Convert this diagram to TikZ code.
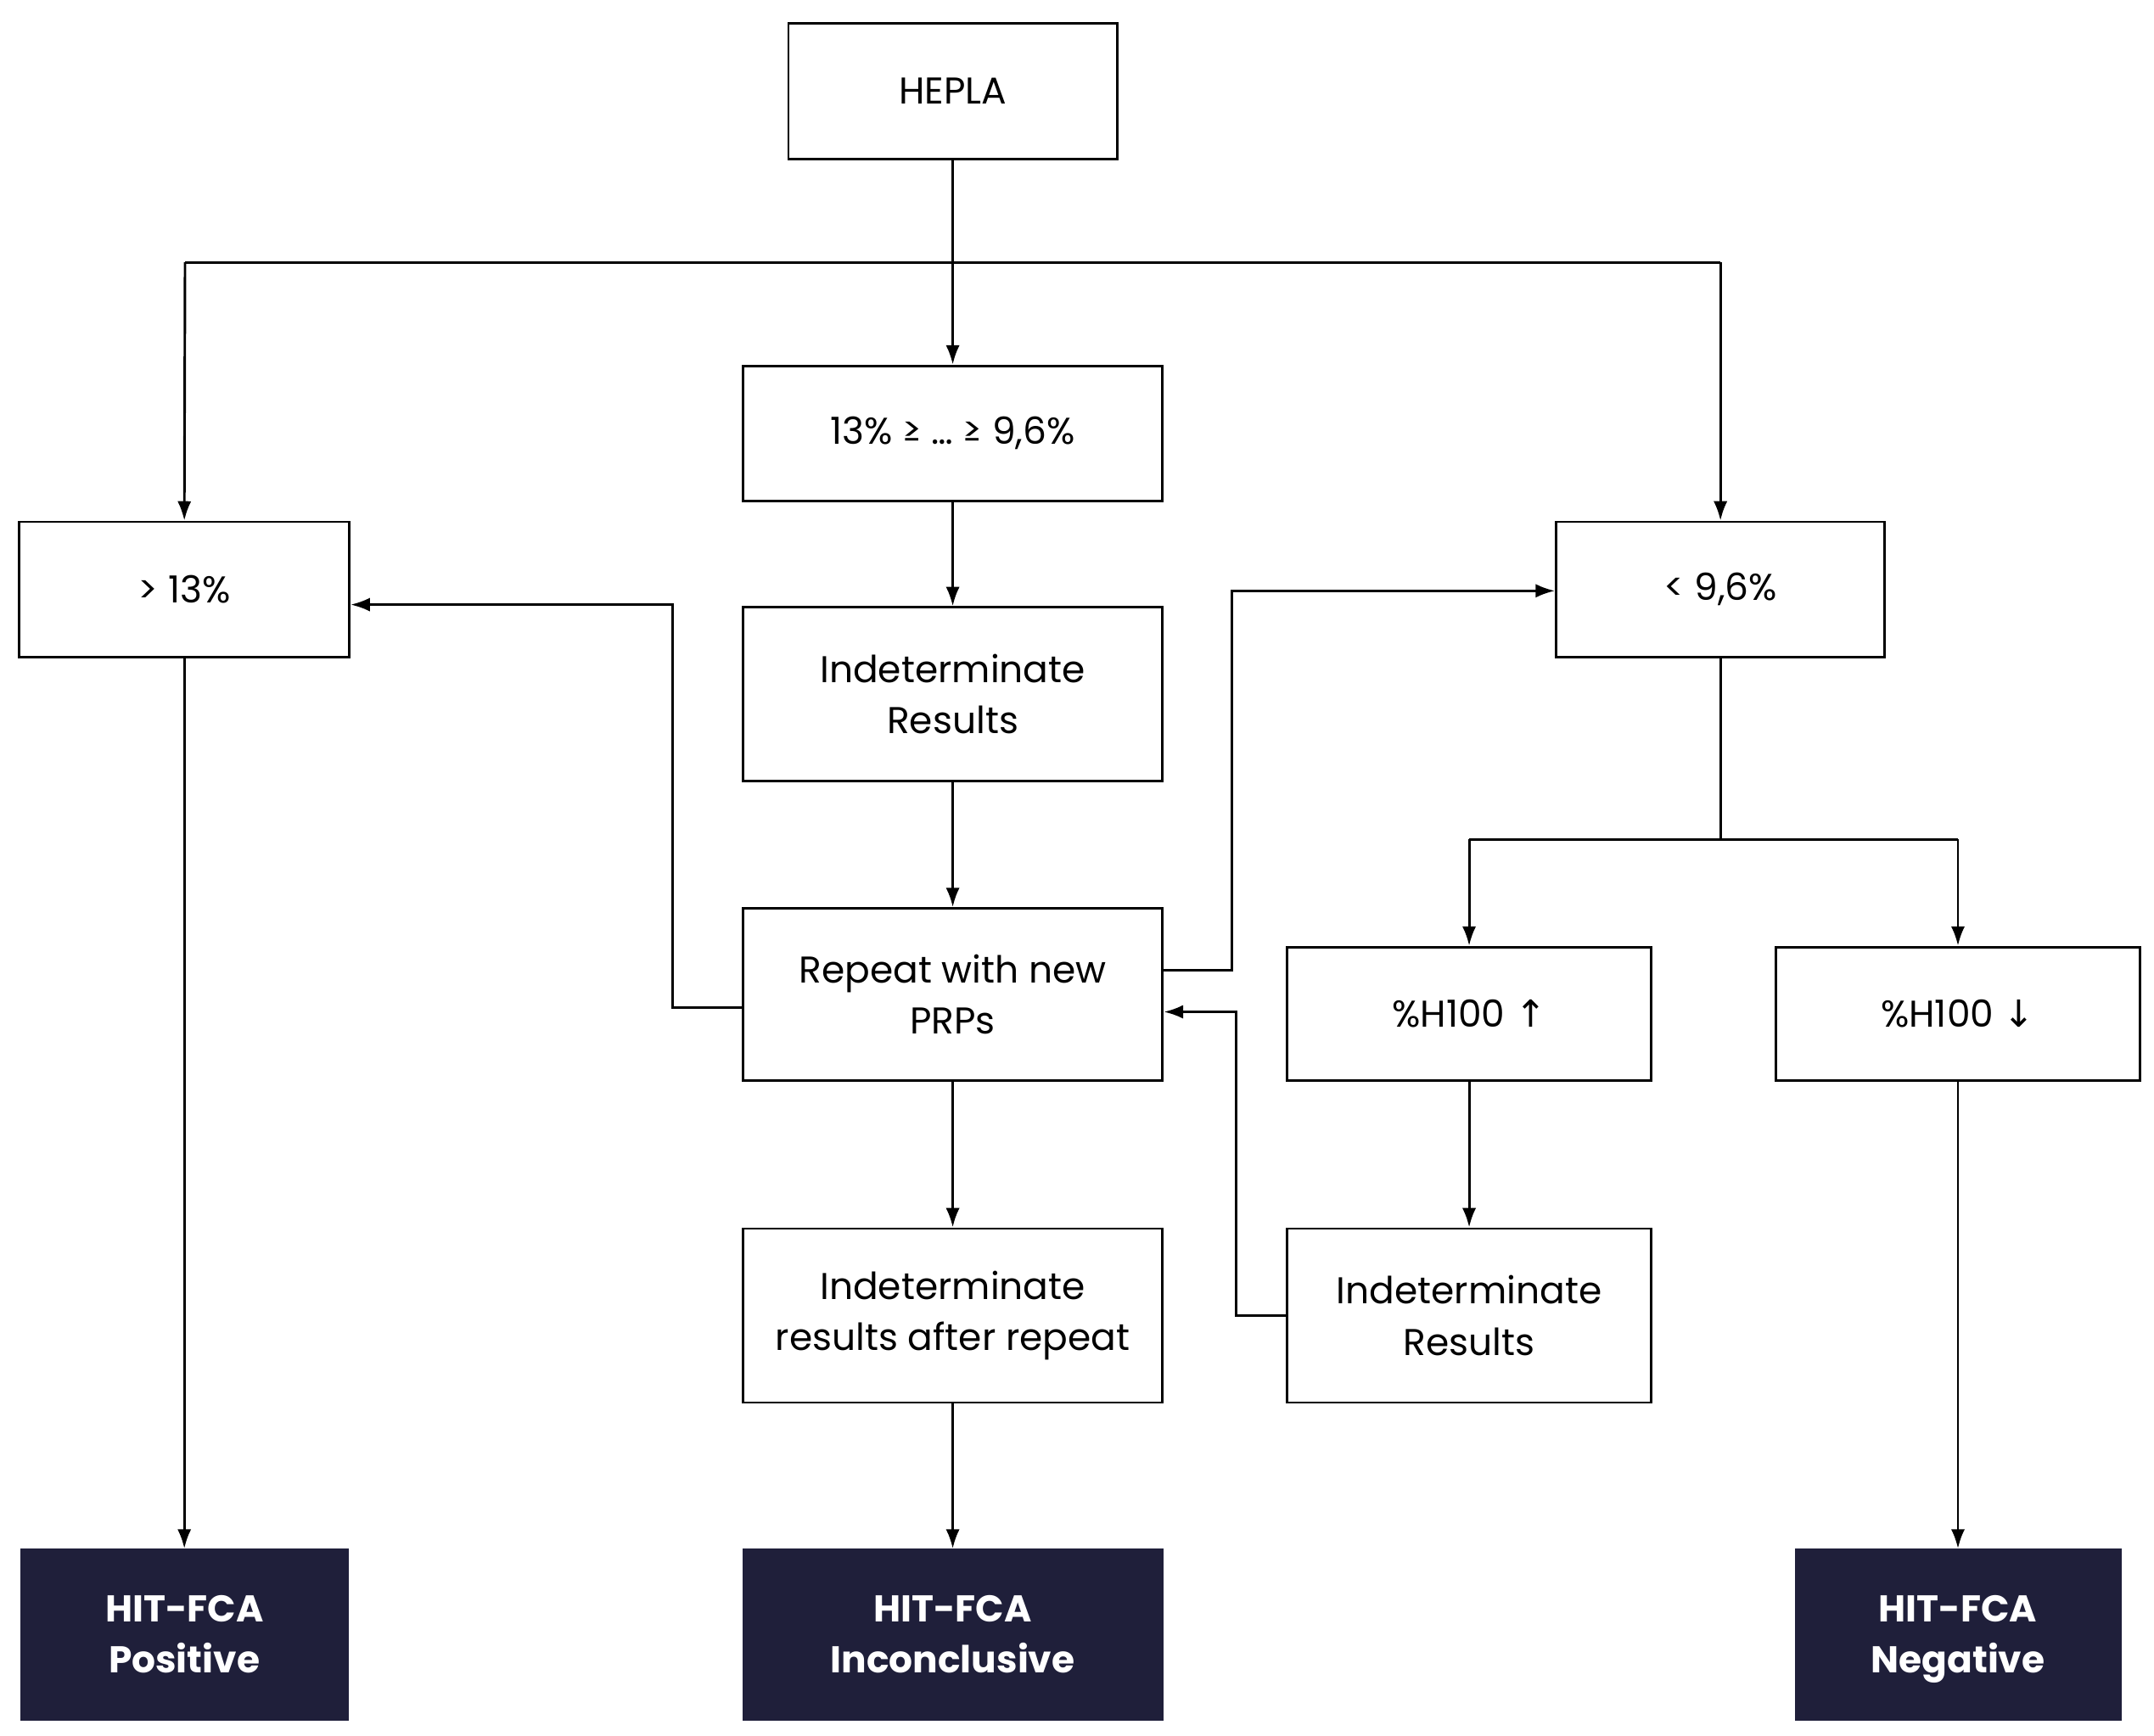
\documentclass[tikz,border=0pt]{standalone}
\usepackage{fontspec}
\setmainfont{Poppins}
\newfontfamily\arrfont{DejaVu Sans}
\usetikzlibrary{arrows.meta}
\definecolor{navy}{HTML}{1F1F3A}
\begin{document}
\begin{tikzpicture}[x=1pt,y=-1pt,
  box/.style={draw=black,line width=1.8pt,fill=white,inner sep=0pt,align=center,font=\fontsize{27}{37}\selectfont},
  dark/.style={draw=navy,fill=navy,text=white,inner sep=0pt,align=center,font=\fontsize{27}{37}\selectfont\bfseries},
  arr/.style={line width=1.8pt,-{Latex[length=14pt,width=10pt]}},
  ln/.style={line width=1.8pt}]
\useasboundingbox (0,0) rectangle (1560,1257);
\newcommand{\bx}[6]{\node[#1,minimum width=#4-#3,minimum height=#6-#5] (#2) at ({(#3+#4)/2},{(#5+#6)/2})}
\bx{box}{hepla}{571}{809}{17}{115} {HEPLA};
\bx{box}{mid}{538}{842}{265}{363} {13\% ≥ … ≥ 9,6\%};
\bx{box}{gt}{14}{253}{378}{476} {> 13\%};
\bx{box}{lt}{1127}{1365}{378}{476} {< 9,6\%};
\bx{box}{ind}{538}{842}{440}{566} {Indeterminate\\Results};
\bx{box}{rep}{538}{842}{658}{783} {Repeat with new\\PRPs};
\bx{box}{hup}{932}{1196}{686}{783} {\%H100 {\arrfont ↑}};
\bx{box}{hdn}{1286}{1550}{686}{783} {\%H100 {\arrfont ↓}};
\bx{box}{indr}{538}{842}{890}{1016} {Indeterminate\\results after repeat};
\bx{box}{ind2}{932}{1196}{890}{1016} {Indeterminate\\Results};
\bx{dark}{pos}{15}{252}{1122}{1246} {HIT-FCA\\Positive};
\bx{dark}{inc}{538}{842}{1122}{1246} {HIT-FCA\\Inconclusive};
\bx{dark}{neg}{1300}{1536}{1122}{1246} {HIT-FCA\\\raisebox{0pt}[\height][0pt]{Negative}};
\coordinate (sl) at (134,190);
\coordinate (sr) at (1246,190);
\coordinate (bl) at (1064,608);
\coordinate (br) at (1418,608);
\draw[arr] (hepla) -- (mid);
\draw[ln] (sl) -- (sr);
\draw[arr] (sl) -- (gt.north);
\draw[arr] (sr) -- (lt.north);
\draw[arr] (mid) -- (ind);
\draw[arr] (ind) -- (rep);
\draw[arr] (rep) -- (indr);
\draw[arr] (indr) -- (inc);
\draw[arr] (gt) -- (pos);
\draw[arr] (hdn) -- (hdn |- neg.north);
\draw[arr] (hup) -- (ind2);
\draw[arr] (rep.west |- 0,730) -- (487,730) -- (487,438) -- (gt.east |- 0,438);
\draw[arr] (rep.east |- 0,703) -- (892,703) -- (892,428) -- (lt.west |- 0,428);
\draw[arr] (ind2.west |- 0,953) -- (895,953) -- (895,733) -- (rep.east |- 0,733);
\draw[ln] (lt.south) -- (lt.south |- bl);
\draw[ln] (bl) -- (br);
\draw[arr] (bl) -- (hup.north);
\draw[arr] (br) -- (hdn.north);
\end{tikzpicture}
\end{document}
